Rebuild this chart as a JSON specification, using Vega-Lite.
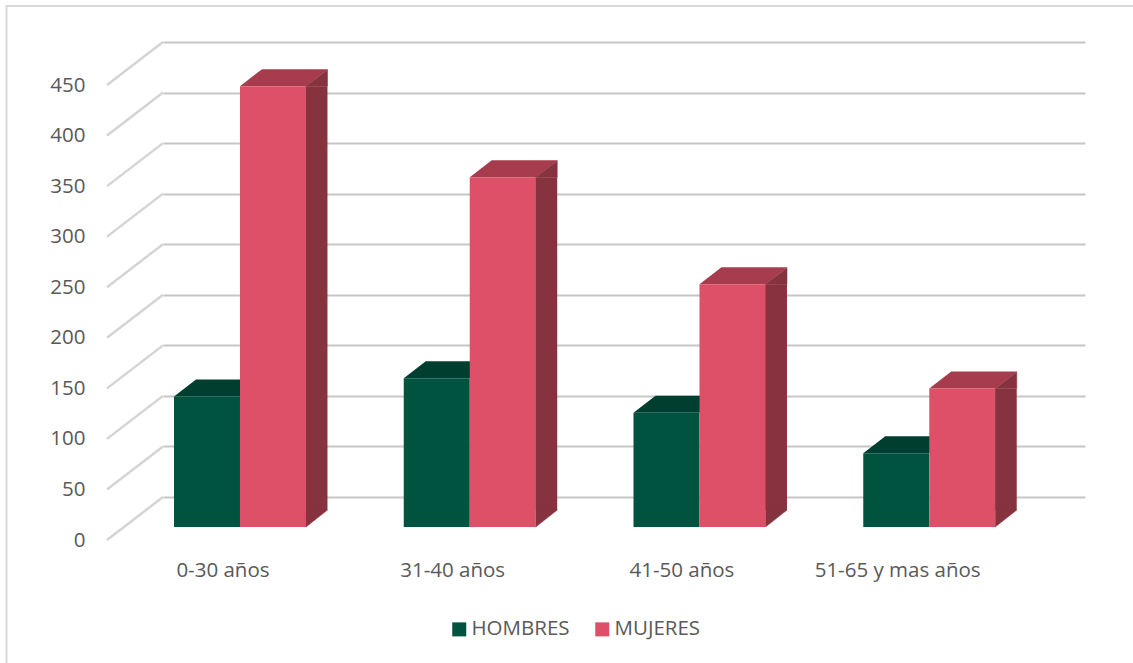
{
"$schema":"https://vega.github.io/schema/vega-lite/v6.json",
"autosize":{"type":"none"},
"padding":{"left":163,"top":42,"right":48,"bottom":166},
"width":922,"height":455,
"background":"white",
"config":{"view":{"stroke":null},"font":"Open Sans"},
"datasets":{
"bars":[
{"edad":"0-30 años","sexo":"HOMBRES","n":129},
{"edad":"0-30 años","sexo":"MUJERES","n":436},
{"edad":"31-40 años","sexo":"HOMBRES","n":147},
{"edad":"31-40 años","sexo":"MUJERES","n":346},
{"edad":"41-50 años","sexo":"HOMBRES","n":113},
{"edad":"41-50 años","sexo":"MUJERES","n":240},
{"edad":"51-65 y mas años","sexo":"HOMBRES","n":73},
{"edad":"51-65 y mas años","sexo":"MUJERES","n":137}],
"ticks":[{"t":0},{"t":50},{"t":100},{"t":150},{"t":200},{"t":250},{"t":300},{"t":350},{"t":400},{"t":450}]
},
"layer":[
{"data":{"values":[{"frame":1}]},
 "mark":{"type":"rect","fill":null,"stroke":"#d9d9d9","strokeWidth":2,"clip":false},
 "encoding":{"x":{"value":-156.5},"x2":{"value":1000},"y":{"value":-36},"y2":{"value":700}}},
{"data":{"name":"ticks"},
 "mark":{"type":"point","shape":"M0,0L-56,43","size":4,"filled":false,"stroke":"#d4d4d4","strokeWidth":2.4,"opacity":1},
 "encoding":{"x":{"value":0},
  "y":{"field":"t","type":"quantitative","scale":{"domain":[0,450],"range":[455,0]},
   "axis":{"title":null,"values":[0,50,100,150,200,250,300,350,400,450],"domain":false,"ticks":false,"grid":true,"gridColor":"#c6c6c6","gridWidth":2,"labelPadding":78,"labelOffset":43,"labelFont":"Open Sans","labelFontSize":20.5,"labelColor":"#595959"}}}},
{"data":{"name":"bars"},
 "mark":{"type":"point","shape":"M-33,30L33,30L55,13L-11,13Z","size":4,"filled":true,"opacity":1},
 "encoding":{
  "x":{"field":"edad","type":"nominal","sort":null,"scale":{"type":"band","range":[0,922],"paddingInner":0,"paddingOuter":0.0065},
   "axis":{"title":null,"domain":false,"ticks":false,"labelAngle":0,"labelPadding":63,"labelFont":"Open Sans","labelFontSize":20.5,"labelColor":"#595959","labelLimit":300,
    "labelOffset":{"condition":[{"test":"datum.value=='0-30 años'","value":-56.4},{"test":"datum.value=='31-40 años'","value":-56.5},{"test":"datum.value=='41-50 años'","value":-57}],"value":-71}}},
  "xOffset":{"field":"sexo","type":"nominal","scale":{"type":"band","domain":["HOMBRES","MUJERES"],"range":[9.5,141.5],"paddingInner":0,"paddingOuter":0}},
  "y":{"field":"n","type":"quantitative"},
  "fill":{"condition":{"test":"datum.sexo=='HOMBRES'","value":"#003f2f"},"value":"#a63c4e"}}},
{"data":{"name":"bars"},
 "transform":[{"filter":"datum.sexo=='MUJERES'"}],
 "mark":{"type":"bar","width":22,"xOffset":37.1,"yOffset":30,"y2Offset":13,"color":"#87323f"},
 "encoding":{
  "x":{"field":"edad","type":"nominal","sort":null},
  "y":{"field":"n","type":"quantitative"},"y2":{"datum":0}}},
{"data":{"name":"bars"},
 "transform":[{"filter":"datum.sexo=='MUJERES'"}],
 "mark":{"type":"point","shape":"M33,30L54.5,13.5L54.5,30Z","size":4,"filled":true,"opacity":1,"color":"#87323f","stroke":"#87323f","strokeWidth":0.5},
 "encoding":{
  "x":{"field":"edad","type":"nominal","sort":null},
  "xOffset":{"field":"sexo","type":"nominal"},
  "y":{"field":"n","type":"quantitative"}}},
{"data":{"name":"bars"},
 "transform":[{"filter":"datum.sexo=='MUJERES'"}],
 "mark":{"type":"point","shape":"M33,13L54.5,13L33,30Z","size":4,"filled":true,"opacity":1,"color":"#87323f","stroke":"#87323f","strokeWidth":0.5},
 "encoding":{
  "x":{"field":"edad","type":"nominal","sort":null},
  "xOffset":{"field":"sexo","type":"nominal"},
  "y":{"datum":0}}},
{"data":{"name":"bars"},
 "mark":{"type":"bar","width":66,"yOffset":30,"y2Offset":30},
 "encoding":{
  "x":{"field":"edad","type":"nominal","sort":null},
  "xOffset":{"field":"sexo","type":"nominal"},
  "y":{"field":"n","type":"quantitative"},"y2":{"datum":0},
  "fill":{"field":"sexo","type":"nominal","scale":{"domain":["HOMBRES","MUJERES"],"range":["#00543f","#dd5067"]},
   "legend":{"title":null,"orient":"none","direction":"horizontal","legendX":286,"legendY":577,"symbolType":"square","symbolSize":196,"symbolStrokeWidth":0,"symbolOpacity":1,"labelFont":"Open Sans","labelFontSize":20.5,"labelColor":"#595959","columnPadding":22,"labelOffset":2,"labelLimit":200}}}}
]
}
